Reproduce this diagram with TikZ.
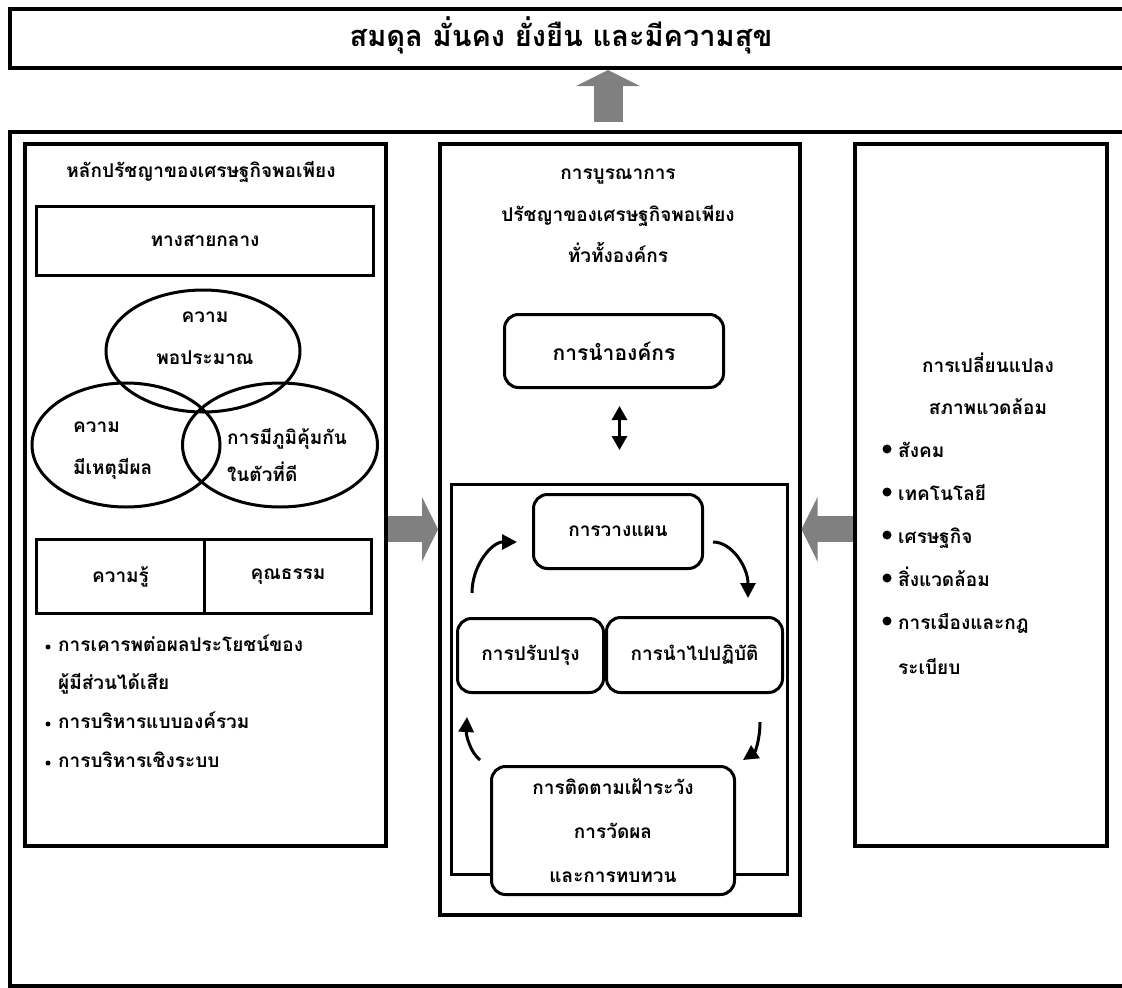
\documentclass[tikz,border=0pt]{standalone}
\usepackage{fontspec}
\setmainfont[Script=Thai]{Loma}
\usetikzlibrary{shapes,shapes.geometric,arrows.meta}

\begin{document}
\begin{tikzpicture}[x=1pt,y=-1pt]
   \useasboundingbox (0,0) rectangle (1122,988);
   \fontsize{19}{23}\selectfont\bfseries
   \tikzstyle{panel}=[draw, line width=3.5pt, anchor=north west, inner sep=0pt]
   \tikzstyle{box}=[draw, line width=3pt, anchor=north west, inner sep=0pt, fill=white]
   \tikzstyle{rbox}=[box, rounded corners=14pt]
   \tikzstyle{oval}=[ellipse, draw, line width=3pt, inner sep=0pt]
   \tikzstyle{txt}=[anchor=mid, inner sep=0pt]
   \tikzstyle{ltxt}=[anchor=mid west, inner sep=0pt]
   \tikzstyle{block}=[color=black!50, line width=26pt, -{Triangle[length=16pt,width=64pt]}]
   \tikzstyle{turnarrow}=[line width=3pt, -{Triangle[length=15pt,width=15pt]}]
   \draw[line width=3.5pt] (10,9) rectangle (1140,68);
   \draw[line width=3.5pt] (1140,132) -- (10,132) -- (10,986) -- (1140,986);
   \node[txt, font=\fontsize{29}{32}\selectfont\bfseries] (goal) at (561,42) {สมดุล มั่นคง ยั่งยืน และมีความสุข};
   \node[panel, minimum width=361pt, minimum height=702pt] (leftpanel) at (23,142) {};
   \node[panel, minimum width=360pt, minimum height=771pt] (midpanel) at (438,142) {};
   \node[panel, minimum width=252pt, minimum height=702pt] (rightpanel) at (853,142) {};

   \node[txt] (ltitle) at (201,173) {หลักปรัชญาของเศรษฐกิจพอเพียง};
   \node[box, minimum width=337pt, minimum height=69pt] (middleway) at (35,205) {ทางสายกลาง};
   \node[oval, minimum width=194pt, minimum height=122pt] (moderate) at (203,351) {};
   \node[oval, minimum width=188pt, minimum height=124pt] (reason) at (126,445) {};
   \node[oval, minimum width=195pt, minimum height=124pt] (immunity) at (280,445) {};
   \node[txt] (moderate1) at (205,318) {ความ};
   \node[txt] (moderate2) at (205,360) {พอประมาณ};
   \node[ltxt] (reason1) at (73,428) {ความ};
   \node[ltxt] (reason2) at (73,470) {มีเหตุมีผล};
   \node[ltxt] (immunity1) at (227,440) {การมีภูมิคุ้มกัน};
   \node[ltxt] (immunity2) at (227,477) {ในตัวที่ดี};
   \node[box, minimum width=168pt, minimum height=74pt] (knowledge) at (35,538) {ความรู้};
   \node[box, minimum width=167pt, minimum height=74pt] (virtue) at (203,538) {คุณธรรม};
   \foreach \y/\words in {647/{การเคารพต่อผลประโยชน์ของ},724/{การบริหารแบบองค์รวม},763/{การบริหารเชิงระบบ}} {
       \node[ltxt] (lb\y) at (58,\y) {\words};
       \node[circle, fill, inner sep=0pt, minimum size=5pt] (ldot\y) at (48,\y) {};
   }
   \node[ltxt] (stakeholder) at (58,685) {ผู้มีส่วนได้เสีย};

   \foreach \i/\words in {0/การบูรณาการ,1/ปรัชญาของเศรษฐกิจพอเพียง,2/ทั่วทั้งองค์กร}
       \node[txt] (mtitle\i) at (618,{175+41.5*\i}) {\words};
   \node[rbox, minimum width=219pt, minimum height=73pt, font=\fontsize{21}{25}\selectfont\bfseries] (lead) at (503,313) {การนำองค์กร};
   \node[panel, line width=3pt, minimum width=336pt, minimum height=390pt] (cycleframe) at (450,483) {};
   \node[rbox, minimum width=169pt, minimum height=74pt] (plan) at (532,493) {การวางแผน};
   \node[rbox, minimum width=146pt, minimum height=74pt] (improve) at (456,617) {การปรับปรุง};
   \node[rbox, minimum width=176pt, minimum height=75pt] (act) at (605,616) {การนำไปปฏิบัติ};
   \node[rbox, minimum width=243pt, minimum height=128pt, align=center, font=\fontsize{19}{44}\selectfont\bfseries] (monitor) at (490,765) {การติดตามเฝ้าระวัง\\การวัดผล\\และการทบทวน};
   \draw[line width=3pt, {Triangle[length=14pt,width=15pt]}-{Triangle[length=14pt,width=15pt]}, shorten <=17pt, shorten >=33pt] (cycleframe.north |- lead.south) -- (cycleframe.north);
   \coordinate (c1) at (472,593);
   \coordinate (c2) at (517,542);
   \coordinate (c3) at (713,542);
   \coordinate (c4) at (748,598);
   \coordinate (c5) at (760,722);
   \coordinate (c6) at (743,760);
   \coordinate (c7) at (480,760);
   \coordinate (c8) at (467,717);
   \draw[turnarrow] (c1) .. controls (472,565) and (492,542) .. (c2);
   \draw[turnarrow] (c3) .. controls (732,542) and (748,567) .. (c4);
   \draw[turnarrow] (c5) .. controls (760,740) and (755,752) .. (c6);
   \draw[turnarrow] (c7) .. controls (470,752) and (466,735) .. (c8);

   \node[txt] (change1) at (988,368) {การเปลี่ยนแปลง};
   \node[txt] (change2) at (988,410) {สภาพแวดล้อม};
   \foreach \i/\words in {0/สังคม,1/เทคโนโลยี,2/เศรษฐกิจ,3/สิ่งแวดล้อม,4/การเมืองและกฎ} {
       \node[ltxt] (env\i) at (898,{453+43*\i}) {\words};
       \node[circle, fill, inner sep=0pt, minimum size=9pt] (dot\i) at (887,{449+43*\i}) {};
   }
   \node[ltxt] (env5) at (898,670) {ระเบียบ};

   \draw[block] (leftpanel.east |- midpanel.west) -- (midpanel.west);
   \draw[block] (rightpanel.west |- midpanel.east) -- (midpanel.east);
   \coordinate (upfoot) at (608,122);
   \coordinate (goaltip) at (608,70);
   \draw[block, line width=29pt, -{Triangle[length=16pt,width=63pt]}] (upfoot) -- (goaltip);
\end{tikzpicture}
\end{document}
